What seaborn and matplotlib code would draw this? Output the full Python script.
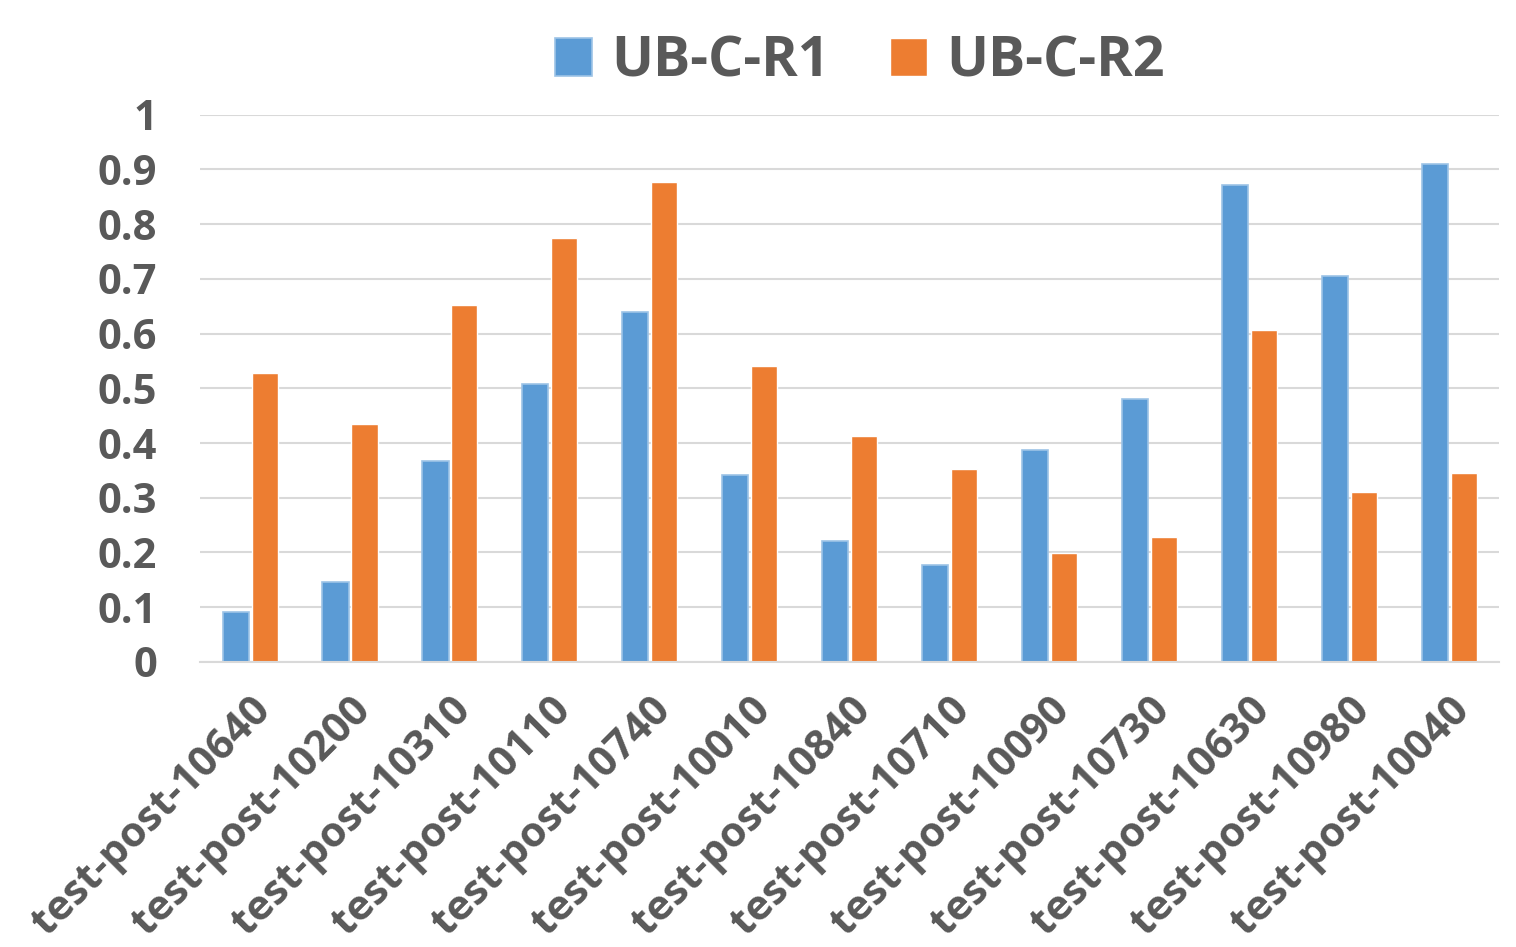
import matplotlib
matplotlib.use("Agg")
import matplotlib.pyplot as plt
import seaborn as sns
import pandas as pd

categories = ["test-post-10640", "test-post-10200", "test-post-10310", "test-post-10110",
              "test-post-10740", "test-post-10010", "test-post-10840", "test-post-10710",
              "test-post-10090", "test-post-10730", "test-post-10630", "test-post-10980",
              "test-post-10040"]
r1_values = [0.091, 0.146, 0.367, 0.508, 0.640, 0.342, 0.221, 0.177, 0.388, 0.481, 0.872, 0.706, 0.910]
r2_values = [0.528, 0.435, 0.653, 0.775, 0.877, 0.541, 0.413, 0.353, 0.199, 0.229, 0.607, 0.311, 0.346]
series_names = ["UB-C-R1", "UB-C-R2"]
y_ticks = [0, 0.1, 0.2, 0.3, 0.4, 0.5, 0.6, 0.7, 0.8, 0.9, 1]
y_tick_labels = ["0", "0.1", "0.2", "0.3", "0.4", "0.5", "0.6", "0.7", "0.8", "0.9", "1"]

df = pd.DataFrame({
    "category": categories * 2,
    "value": r1_values + r2_values,
    "series": [series_names[0]] * len(categories) + [series_names[1]] * len(categories),
})

sns.set_theme(style="white")
plt.rcParams["font.family"] = ["Open Sans", "DejaVu Sans"]
text_color = "#595959"

fig = plt.figure(figsize=(15.16, 9.47), dpi=100)
ax = fig.add_axes([0.132, 0.301, 0.857, 0.578])

palette = {"UB-C-R1": "#5B9BD5", "UB-C-R2": "#ED7D31"}
sns.barplot(data=df, x="category", y="value", hue="series", palette=palette,
            width=0.58, gap=0.1, ax=ax, saturation=1, legend=True)

for patch in ax.patches:
    fc = patch.get_facecolor()
    if abs(fc[0] - 0x5B / 255) < 0.02:
        patch.set_edgecolor("#9DC3E6")
        patch.set_linewidth(1.2)

ax.set_ylim(0, 1)
ax.set_xlim(-0.5, len(categories) - 0.5)
ax.set_yticks(y_ticks)
ax.set_yticklabels(y_tick_labels, fontsize=30, fontweight="bold", color=text_color)
ax.yaxis.grid(True, color="#D9D9D9", linewidth=1.5)
ax.set_axisbelow(True)
ax.tick_params(axis="both", length=0)
ax.tick_params(axis="y", pad=31)
ax.tick_params(axis="x", pad=20)
ax.set_xlabel("")
ax.set_ylabel("")
for lbl in ax.get_xticklabels():
    lbl.set_rotation(45)
    lbl.set_ha("right")
    lbl.set_rotation_mode("anchor")
    lbl.set_fontsize(30)
    lbl.set_fontweight("bold")
    lbl.set_color(text_color)
for s in ["top", "right", "left"]:
    ax.spines[s].set_visible(False)
ax.spines["bottom"].set_color("#D9D9D9")
ax.spines["bottom"].set_linewidth(1.5)

handles, labels = ax.get_legend_handles_labels()
ax.get_legend().remove()
fig.legend(handles, labels, loc="center", bbox_to_anchor=(860 / 1516, 1 - 62 / 947), ncol=2,
           frameon=False, prop={"weight": "bold", "size": 40},
           handlelength=0.65, handleheight=0.65, handletextpad=0.35, columnspacing=1.1,
           labelcolor=text_color)

fig.savefig("out.png", dpi=100)
